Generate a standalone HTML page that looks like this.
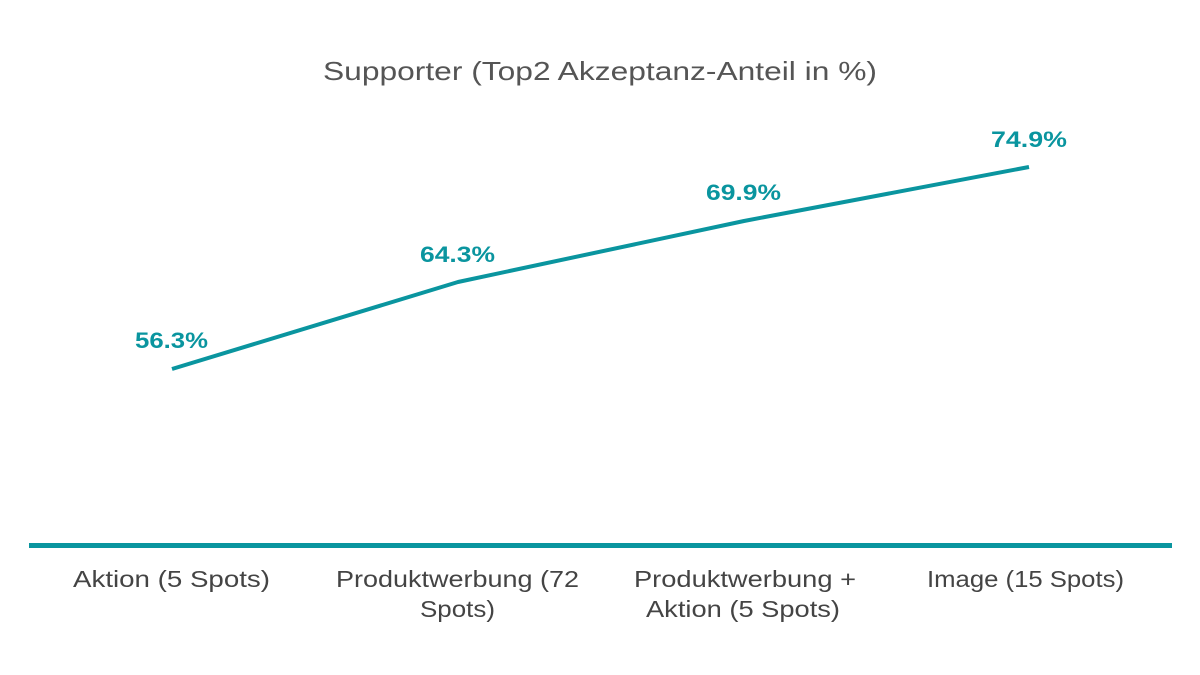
<!DOCTYPE html>
<html><head><style>
body{margin:0;background:#fff;}
</style></head><body>
<svg width="1200" height="675" xmlns="http://www.w3.org/2000/svg" style="display:block">
<rect width="1200" height="675" fill="#fff"/>
<text x="323" y="80" textLength="554" lengthAdjust="spacingAndGlyphs" font-family="Liberation Sans, sans-serif" font-size="26" fill="#555">Supporter (Top2 Akzeptanz-Anteil in %)</text>
<polyline points="172,369 458,282 744,221 1029,167" fill="none" stroke="#0a959f" stroke-width="4" stroke-linejoin="round"/>
<g font-family="Liberation Sans, sans-serif" font-size="22" font-weight="bold" fill="#0a959f">
<text x="135" y="348" textLength="73" lengthAdjust="spacingAndGlyphs">56.3%</text>
<text x="420" y="262" textLength="75" lengthAdjust="spacingAndGlyphs">64.3%</text>
<text x="706" y="200" textLength="75" lengthAdjust="spacingAndGlyphs">69.9%</text>
<text x="991" y="147" textLength="76" lengthAdjust="spacingAndGlyphs">74.9%</text>
</g>
<rect x="29" y="543" width="1143" height="5" fill="#0a959f"/>
<g font-family="Liberation Sans, sans-serif" font-size="23" fill="#444">
<text x="73" y="587" textLength="197" lengthAdjust="spacingAndGlyphs">Aktion (5 Spots)</text>
<text x="336" y="587" textLength="243" lengthAdjust="spacingAndGlyphs">Produktwerbung (72</text>
<text x="420" y="617" textLength="75" lengthAdjust="spacingAndGlyphs">Spots)</text>
<text x="634" y="587" textLength="222" lengthAdjust="spacingAndGlyphs">Produktwerbung +</text>
<text x="646" y="617" textLength="194" lengthAdjust="spacingAndGlyphs">Aktion (5 Spots)</text>
<text x="927" y="587" textLength="197" lengthAdjust="spacingAndGlyphs">Image (15 Spots)</text>
</g>
</svg>
</body></html>
